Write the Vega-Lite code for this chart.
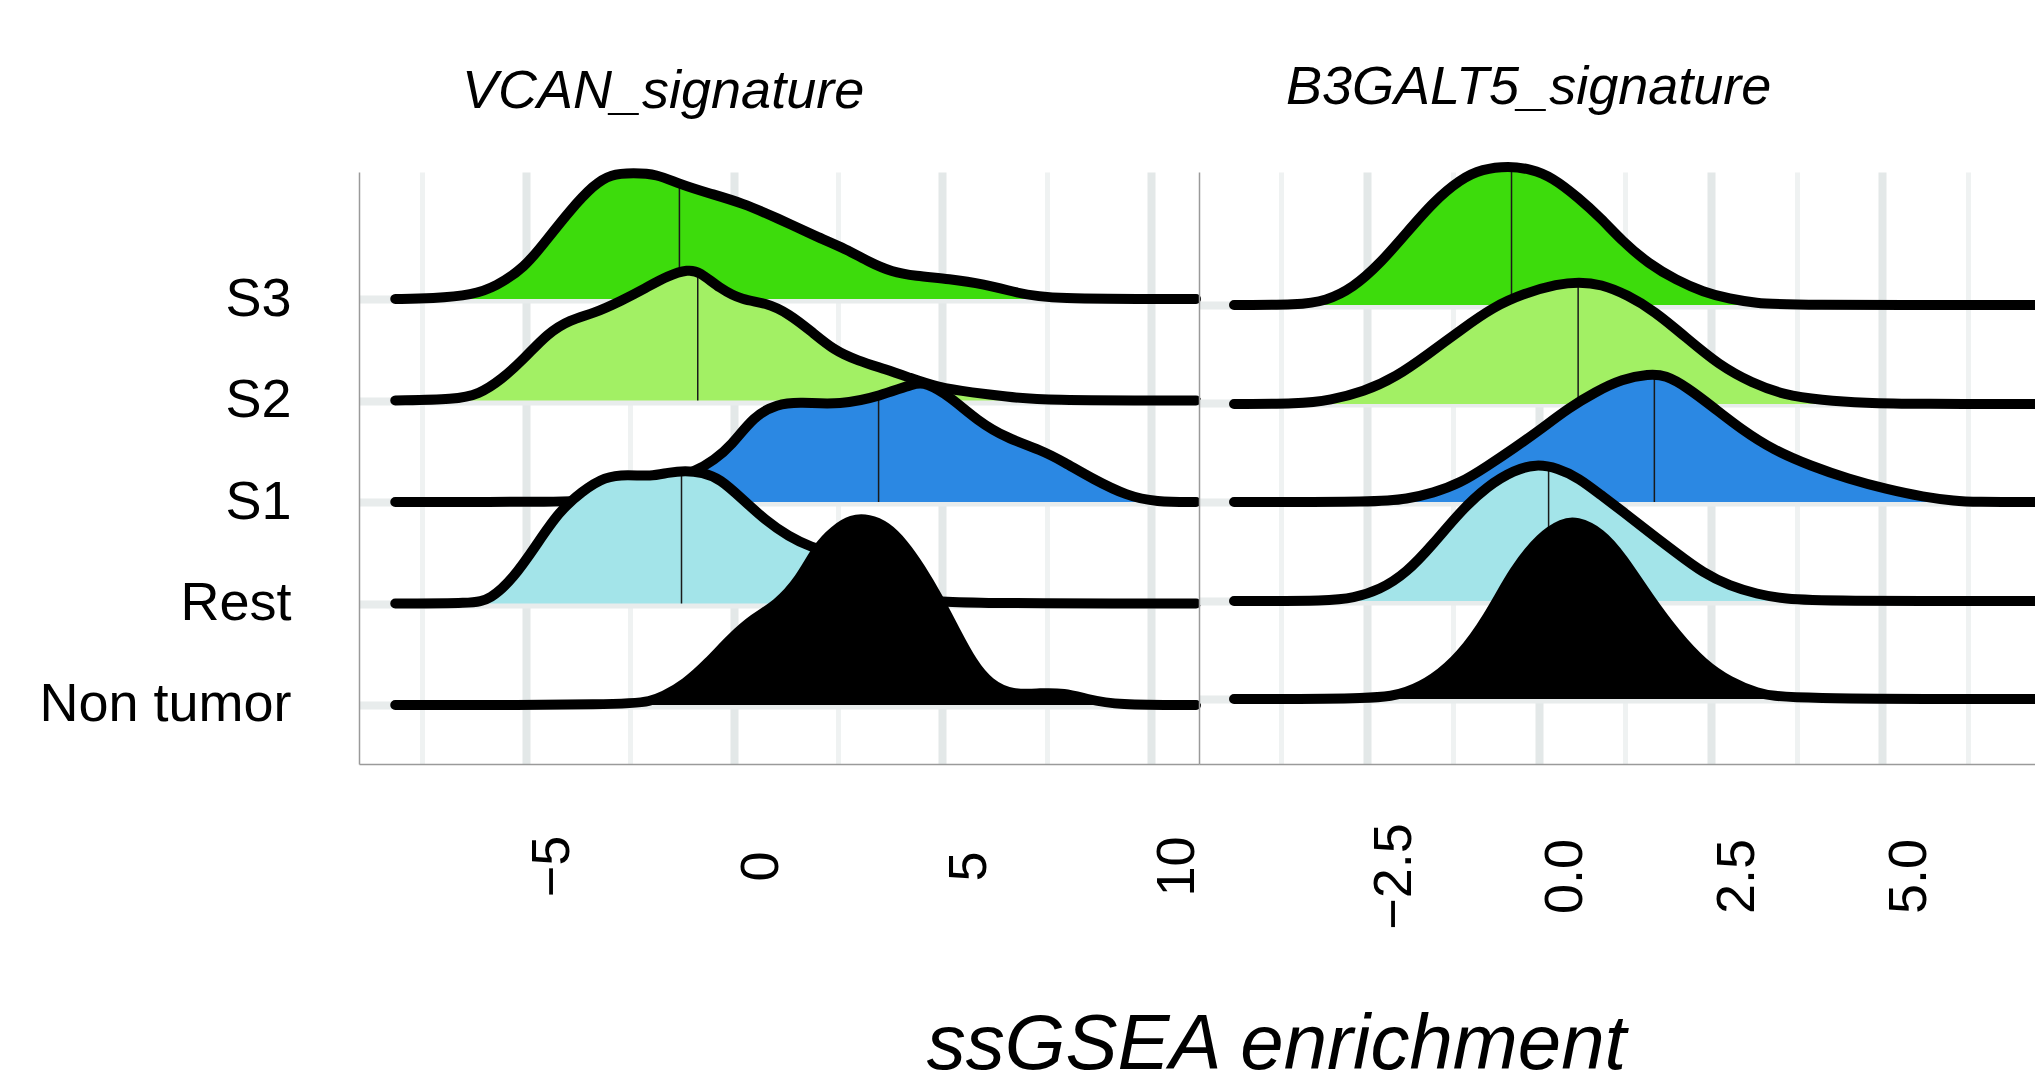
{
  "$schema": "https://vega.github.io/schema/vega-lite/v6.json",
  "background": "white",
  "padding": {"left": 38, "top": 61, "right": 0, "bottom": 0},
  "bounds": "flush",
  "spacing": 0,
  "config": {
    "view": {"stroke": null},
    "font": "Liberation Sans",
    "axis": {"labelFont": "Liberation Sans", "titleFont": "Liberation Sans"}
  },
  "resolve": {"scale": {"x": "independent", "y": "independent"}},
  "datasets": {
    "curves": [
      {"sig": "VCAN", "group": "S3", "v": -8.13, "h": 0},
      {"sig": "VCAN", "group": "S3", "v": -7.23, "h": 0.005},
      {"sig": "VCAN", "group": "S3", "v": -6.27, "h": 0.04},
      {"sig": "VCAN", "group": "S3", "v": -5.72, "h": 0.125},
      {"sig": "VCAN", "group": "S3", "v": -5.03, "h": 0.31},
      {"sig": "VCAN", "group": "S3", "v": -4.48, "h": 0.6},
      {"sig": "VCAN", "group": "S3", "v": -3.93, "h": 0.89},
      {"sig": "VCAN", "group": "S3", "v": -3.37, "h": 1.14},
      {"sig": "VCAN", "group": "S3", "v": -2.96, "h": 1.25},
      {"sig": "VCAN", "group": "S3", "v": -2.41, "h": 1.26},
      {"sig": "VCAN", "group": "S3", "v": -1.86, "h": 1.25},
      {"sig": "VCAN", "group": "S3", "v": -1.31, "h": 1.15},
      {"sig": "VCAN", "group": "S3", "v": -0.62, "h": 1.06},
      {"sig": "VCAN", "group": "S3", "v": 0.21, "h": 0.96},
      {"sig": "VCAN", "group": "S3", "v": 1.03, "h": 0.81},
      {"sig": "VCAN", "group": "S3", "v": 2.0, "h": 0.62},
      {"sig": "VCAN", "group": "S3", "v": 2.69, "h": 0.5},
      {"sig": "VCAN", "group": "S3", "v": 3.24, "h": 0.37},
      {"sig": "VCAN", "group": "S3", "v": 3.79, "h": 0.27},
      {"sig": "VCAN", "group": "S3", "v": 4.34, "h": 0.23},
      {"sig": "VCAN", "group": "S3", "v": 5.17, "h": 0.2},
      {"sig": "VCAN", "group": "S3", "v": 5.99, "h": 0.15},
      {"sig": "VCAN", "group": "S3", "v": 6.82, "h": 0.06},
      {"sig": "VCAN", "group": "S3", "v": 7.51, "h": 0},
      {"sig": "VCAN", "group": "S3", "v": 11.09, "h": 0},

      {"sig": "VCAN", "group": "S2", "v": -8.13, "h": 0},
      {"sig": "VCAN", "group": "S2", "v": -6.68, "h": 0.01},
      {"sig": "VCAN", "group": "S2", "v": -6.13, "h": 0.06},
      {"sig": "VCAN", "group": "S2", "v": -5.58, "h": 0.21},
      {"sig": "VCAN", "group": "S2", "v": -5.03, "h": 0.42},
      {"sig": "VCAN", "group": "S2", "v": -4.48, "h": 0.67},
      {"sig": "VCAN", "group": "S2", "v": -3.93, "h": 0.81},
      {"sig": "VCAN", "group": "S2", "v": -3.37, "h": 0.87},
      {"sig": "VCAN", "group": "S2", "v": -2.69, "h": 1.0},
      {"sig": "VCAN", "group": "S2", "v": -2.14, "h": 1.12},
      {"sig": "VCAN", "group": "S2", "v": -1.58, "h": 1.25},
      {"sig": "VCAN", "group": "S2", "v": -1.1, "h": 1.31},
      {"sig": "VCAN", "group": "S2", "v": -0.83, "h": 1.29},
      {"sig": "VCAN", "group": "S2", "v": -0.34, "h": 1.12},
      {"sig": "VCAN", "group": "S2", "v": 0.21, "h": 1.0},
      {"sig": "VCAN", "group": "S2", "v": 0.76, "h": 0.98},
      {"sig": "VCAN", "group": "S2", "v": 1.31, "h": 0.87},
      {"sig": "VCAN", "group": "S2", "v": 1.86, "h": 0.69},
      {"sig": "VCAN", "group": "S2", "v": 2.41, "h": 0.5},
      {"sig": "VCAN", "group": "S2", "v": 2.96, "h": 0.4},
      {"sig": "VCAN", "group": "S2", "v": 3.65, "h": 0.31},
      {"sig": "VCAN", "group": "S2", "v": 4.2, "h": 0.23},
      {"sig": "VCAN", "group": "S2", "v": 4.89, "h": 0.13},
      {"sig": "VCAN", "group": "S2", "v": 5.72, "h": 0.08},
      {"sig": "VCAN", "group": "S2", "v": 6.54, "h": 0.04},
      {"sig": "VCAN", "group": "S2", "v": 7.37, "h": 0},
      {"sig": "VCAN", "group": "S2", "v": 11.09, "h": 0},

      {"sig": "VCAN", "group": "S1", "v": -8.13, "h": 0},
      {"sig": "VCAN", "group": "S1", "v": -4.0, "h": 0},
      {"sig": "VCAN", "group": "S1", "v": -3.24, "h": 0.02},
      {"sig": "VCAN", "group": "S1", "v": -2.55, "h": 0.08},
      {"sig": "VCAN", "group": "S1", "v": -1.72, "h": 0.19},
      {"sig": "VCAN", "group": "S1", "v": -0.9, "h": 0.31},
      {"sig": "VCAN", "group": "S1", "v": -0.48, "h": 0.42},
      {"sig": "VCAN", "group": "S1", "v": -0.07, "h": 0.56},
      {"sig": "VCAN", "group": "S1", "v": 0.48, "h": 0.86},
      {"sig": "VCAN", "group": "S1", "v": 1.03, "h": 0.98},
      {"sig": "VCAN", "group": "S1", "v": 1.58, "h": 1.0},
      {"sig": "VCAN", "group": "S1", "v": 2.55, "h": 0.97},
      {"sig": "VCAN", "group": "S1", "v": 3.51, "h": 1.06},
      {"sig": "VCAN", "group": "S1", "v": 4.34, "h": 1.19},
      {"sig": "VCAN", "group": "S1", "v": 4.61, "h": 1.19},
      {"sig": "VCAN", "group": "S1", "v": 5.17, "h": 1.06},
      {"sig": "VCAN", "group": "S1", "v": 5.85, "h": 0.81},
      {"sig": "VCAN", "group": "S1", "v": 6.54, "h": 0.64},
      {"sig": "VCAN", "group": "S1", "v": 7.37, "h": 0.52},
      {"sig": "VCAN", "group": "S1", "v": 7.92, "h": 0.4},
      {"sig": "VCAN", "group": "S1", "v": 8.61, "h": 0.23},
      {"sig": "VCAN", "group": "S1", "v": 9.44, "h": 0.06},
      {"sig": "VCAN", "group": "S1", "v": 10.12, "h": 0},
      {"sig": "VCAN", "group": "S1", "v": 11.09, "h": 0},

      {"sig": "VCAN", "group": "Rest", "v": -8.13, "h": 0},
      {"sig": "VCAN", "group": "Rest", "v": -6.27, "h": 0},
      {"sig": "VCAN", "group": "Rest", "v": -5.85, "h": 0.04},
      {"sig": "VCAN", "group": "Rest", "v": -5.3, "h": 0.25},
      {"sig": "VCAN", "group": "Rest", "v": -4.75, "h": 0.58},
      {"sig": "VCAN", "group": "Rest", "v": -4.2, "h": 0.92},
      {"sig": "VCAN", "group": "Rest", "v": -3.65, "h": 1.12},
      {"sig": "VCAN", "group": "Rest", "v": -3.1, "h": 1.27},
      {"sig": "VCAN", "group": "Rest", "v": -2.55, "h": 1.29},
      {"sig": "VCAN", "group": "Rest", "v": -2.0, "h": 1.27},
      {"sig": "VCAN", "group": "Rest", "v": -1.58, "h": 1.31},
      {"sig": "VCAN", "group": "Rest", "v": -1.17, "h": 1.33},
      {"sig": "VCAN", "group": "Rest", "v": -0.76, "h": 1.31},
      {"sig": "VCAN", "group": "Rest", "v": -0.34, "h": 1.25},
      {"sig": "VCAN", "group": "Rest", "v": 0.21, "h": 1.04},
      {"sig": "VCAN", "group": "Rest", "v": 0.76, "h": 0.83},
      {"sig": "VCAN", "group": "Rest", "v": 1.31, "h": 0.67},
      {"sig": "VCAN", "group": "Rest", "v": 1.86, "h": 0.56},
      {"sig": "VCAN", "group": "Rest", "v": 2.41, "h": 0.5},
      {"sig": "VCAN", "group": "Rest", "v": 2.96, "h": 0.4},
      {"sig": "VCAN", "group": "Rest", "v": 3.65, "h": 0.2},
      {"sig": "VCAN", "group": "Rest", "v": 4.34, "h": 0.05},
      {"sig": "VCAN", "group": "Rest", "v": 5.03, "h": 0},
      {"sig": "VCAN", "group": "Rest", "v": 11.09, "h": 0},

      {"sig": "VCAN", "group": "Non tumor", "v": -8.13, "h": 0},
      {"sig": "VCAN", "group": "Non tumor", "v": -2.55, "h": 0},
      {"sig": "VCAN", "group": "Non tumor", "v": -2.0, "h": 0.04},
      {"sig": "VCAN", "group": "Non tumor", "v": -1.72, "h": 0.08},
      {"sig": "VCAN", "group": "Non tumor", "v": -1.17, "h": 0.21},
      {"sig": "VCAN", "group": "Non tumor", "v": -0.62, "h": 0.42},
      {"sig": "VCAN", "group": "Non tumor", "v": -0.07, "h": 0.67},
      {"sig": "VCAN", "group": "Non tumor", "v": 0.48, "h": 0.87},
      {"sig": "VCAN", "group": "Non tumor", "v": 1.03, "h": 1.0},
      {"sig": "VCAN", "group": "Non tumor", "v": 1.58, "h": 1.25},
      {"sig": "VCAN", "group": "Non tumor", "v": 2.0, "h": 1.58},
      {"sig": "VCAN", "group": "Non tumor", "v": 2.41, "h": 1.75},
      {"sig": "VCAN", "group": "Non tumor", "v": 2.82, "h": 1.86},
      {"sig": "VCAN", "group": "Non tumor", "v": 3.24, "h": 1.86},
      {"sig": "VCAN", "group": "Non tumor", "v": 3.65, "h": 1.79},
      {"sig": "VCAN", "group": "Non tumor", "v": 4.06, "h": 1.62},
      {"sig": "VCAN", "group": "Non tumor", "v": 4.48, "h": 1.37},
      {"sig": "VCAN", "group": "Non tumor", "v": 4.89, "h": 1.08},
      {"sig": "VCAN", "group": "Non tumor", "v": 5.3, "h": 0.75},
      {"sig": "VCAN", "group": "Non tumor", "v": 5.72, "h": 0.42},
      {"sig": "VCAN", "group": "Non tumor", "v": 6.13, "h": 0.21},
      {"sig": "VCAN", "group": "Non tumor", "v": 6.68, "h": 0.1},
      {"sig": "VCAN", "group": "Non tumor", "v": 7.37, "h": 0.12},
      {"sig": "VCAN", "group": "Non tumor", "v": 7.92, "h": 0.12},
      {"sig": "VCAN", "group": "Non tumor", "v": 8.47, "h": 0.06},
      {"sig": "VCAN", "group": "Non tumor", "v": 9.16, "h": 0},
      {"sig": "VCAN", "group": "Non tumor", "v": 11.09, "h": 0},

      {"sig": "B3GALT5", "group": "S3", "v": -4.44, "h": 0},
      {"sig": "B3GALT5", "group": "S3", "v": -3.5, "h": 0},
      {"sig": "B3GALT5", "group": "S3", "v": -3.1, "h": 0.04},
      {"sig": "B3GALT5", "group": "S3", "v": -2.71, "h": 0.17},
      {"sig": "B3GALT5", "group": "S3", "v": -2.32, "h": 0.41},
      {"sig": "B3GALT5", "group": "S3", "v": -1.93, "h": 0.72},
      {"sig": "B3GALT5", "group": "S3", "v": -1.54, "h": 1.03},
      {"sig": "B3GALT5", "group": "S3", "v": -1.14, "h": 1.26},
      {"sig": "B3GALT5", "group": "S3", "v": -0.83, "h": 1.36},
      {"sig": "B3GALT5", "group": "S3", "v": -0.44, "h": 1.39},
      {"sig": "B3GALT5", "group": "S3", "v": -0.12, "h": 1.36},
      {"sig": "B3GALT5", "group": "S3", "v": 0.19, "h": 1.28},
      {"sig": "B3GALT5", "group": "S3", "v": 0.58, "h": 1.07},
      {"sig": "B3GALT5", "group": "S3", "v": 0.9, "h": 0.87},
      {"sig": "B3GALT5", "group": "S3", "v": 1.21, "h": 0.64},
      {"sig": "B3GALT5", "group": "S3", "v": 1.6, "h": 0.41},
      {"sig": "B3GALT5", "group": "S3", "v": 2.0, "h": 0.25},
      {"sig": "B3GALT5", "group": "S3", "v": 2.39, "h": 0.13},
      {"sig": "B3GALT5", "group": "S3", "v": 2.78, "h": 0.06},
      {"sig": "B3GALT5", "group": "S3", "v": 3.17, "h": 0.02},
      {"sig": "B3GALT5", "group": "S3", "v": 3.56, "h": 0},
      {"sig": "B3GALT5", "group": "S3", "v": 7.3, "h": 0},

      {"sig": "B3GALT5", "group": "S2", "v": -4.44, "h": 0},
      {"sig": "B3GALT5", "group": "S2", "v": -3.5, "h": 0},
      {"sig": "B3GALT5", "group": "S2", "v": -3.03, "h": 0.04},
      {"sig": "B3GALT5", "group": "S2", "v": -2.56, "h": 0.12},
      {"sig": "B3GALT5", "group": "S2", "v": -2.08, "h": 0.27},
      {"sig": "B3GALT5", "group": "S2", "v": -1.61, "h": 0.5},
      {"sig": "B3GALT5", "group": "S2", "v": -1.14, "h": 0.74},
      {"sig": "B3GALT5", "group": "S2", "v": -0.67, "h": 0.97},
      {"sig": "B3GALT5", "group": "S2", "v": -0.2, "h": 1.11},
      {"sig": "B3GALT5", "group": "S2", "v": 0.27, "h": 1.2},
      {"sig": "B3GALT5", "group": "S2", "v": 0.58, "h": 1.22},
      {"sig": "B3GALT5", "group": "S2", "v": 0.9, "h": 1.2},
      {"sig": "B3GALT5", "group": "S2", "v": 1.29, "h": 1.09},
      {"sig": "B3GALT5", "group": "S2", "v": 1.68, "h": 0.93},
      {"sig": "B3GALT5", "group": "S2", "v": 2.15, "h": 0.66},
      {"sig": "B3GALT5", "group": "S2", "v": 2.62, "h": 0.39},
      {"sig": "B3GALT5", "group": "S2", "v": 3.1, "h": 0.21},
      {"sig": "B3GALT5", "group": "S2", "v": 3.57, "h": 0.09},
      {"sig": "B3GALT5", "group": "S2", "v": 4.11, "h": 0.04},
      {"sig": "B3GALT5", "group": "S2", "v": 4.74, "h": 0.01},
      {"sig": "B3GALT5", "group": "S2", "v": 5.52, "h": 0},
      {"sig": "B3GALT5", "group": "S2", "v": 7.3, "h": 0},

      {"sig": "B3GALT5", "group": "S1", "v": -4.44, "h": 0},
      {"sig": "B3GALT5", "group": "S1", "v": -2.32, "h": 0},
      {"sig": "B3GALT5", "group": "S1", "v": -1.93, "h": 0.03},
      {"sig": "B3GALT5", "group": "S1", "v": -1.54, "h": 0.09},
      {"sig": "B3GALT5", "group": "S1", "v": -1.14, "h": 0.19},
      {"sig": "B3GALT5", "group": "S1", "v": -0.75, "h": 0.36},
      {"sig": "B3GALT5", "group": "S1", "v": -0.36, "h": 0.54},
      {"sig": "B3GALT5", "group": "S1", "v": 0.03, "h": 0.73},
      {"sig": "B3GALT5", "group": "S1", "v": 0.43, "h": 0.94},
      {"sig": "B3GALT5", "group": "S1", "v": 0.82, "h": 1.1},
      {"sig": "B3GALT5", "group": "S1", "v": 1.21, "h": 1.23},
      {"sig": "B3GALT5", "group": "S1", "v": 1.6, "h": 1.28},
      {"sig": "B3GALT5", "group": "S1", "v": 1.84, "h": 1.27},
      {"sig": "B3GALT5", "group": "S1", "v": 2.15, "h": 1.15},
      {"sig": "B3GALT5", "group": "S1", "v": 2.55, "h": 0.94},
      {"sig": "B3GALT5", "group": "S1", "v": 2.94, "h": 0.73},
      {"sig": "B3GALT5", "group": "S1", "v": 3.41, "h": 0.52},
      {"sig": "B3GALT5", "group": "S1", "v": 3.96, "h": 0.36},
      {"sig": "B3GALT5", "group": "S1", "v": 4.51, "h": 0.23},
      {"sig": "B3GALT5", "group": "S1", "v": 5.05, "h": 0.13},
      {"sig": "B3GALT5", "group": "S1", "v": 5.6, "h": 0.05},
      {"sig": "B3GALT5", "group": "S1", "v": 6.07, "h": 0.01},
      {"sig": "B3GALT5", "group": "S1", "v": 6.31, "h": 0},
      {"sig": "B3GALT5", "group": "S1", "v": 7.3, "h": 0},

      {"sig": "B3GALT5", "group": "Rest", "v": -4.44, "h": 0},
      {"sig": "B3GALT5", "group": "Rest", "v": -3.03, "h": 0},
      {"sig": "B3GALT5", "group": "Rest", "v": -2.71, "h": 0.03},
      {"sig": "B3GALT5", "group": "Rest", "v": -2.32, "h": 0.11},
      {"sig": "B3GALT5", "group": "Rest", "v": -1.93, "h": 0.28},
      {"sig": "B3GALT5", "group": "Rest", "v": -1.54, "h": 0.57},
      {"sig": "B3GALT5", "group": "Rest", "v": -1.14, "h": 0.9},
      {"sig": "B3GALT5", "group": "Rest", "v": -0.75, "h": 1.15},
      {"sig": "B3GALT5", "group": "Rest", "v": -0.36, "h": 1.31},
      {"sig": "B3GALT5", "group": "Rest", "v": -0.04, "h": 1.37},
      {"sig": "B3GALT5", "group": "Rest", "v": 0.27, "h": 1.33},
      {"sig": "B3GALT5", "group": "Rest", "v": 0.58, "h": 1.23},
      {"sig": "B3GALT5", "group": "Rest", "v": 0.9, "h": 1.06},
      {"sig": "B3GALT5", "group": "Rest", "v": 1.21, "h": 0.9},
      {"sig": "B3GALT5", "group": "Rest", "v": 1.6, "h": 0.69},
      {"sig": "B3GALT5", "group": "Rest", "v": 2.0, "h": 0.48},
      {"sig": "B3GALT5", "group": "Rest", "v": 2.39, "h": 0.28},
      {"sig": "B3GALT5", "group": "Rest", "v": 2.78, "h": 0.15},
      {"sig": "B3GALT5", "group": "Rest", "v": 3.17, "h": 0.07},
      {"sig": "B3GALT5", "group": "Rest", "v": 3.57, "h": 0.02},
      {"sig": "B3GALT5", "group": "Rest", "v": 4.19, "h": 0},
      {"sig": "B3GALT5", "group": "Rest", "v": 7.3, "h": 0},

      {"sig": "B3GALT5", "group": "Non tumor", "v": -4.44, "h": 0},
      {"sig": "B3GALT5", "group": "Non tumor", "v": -2.32, "h": 0},
      {"sig": "B3GALT5", "group": "Non tumor", "v": -1.93, "h": 0.06},
      {"sig": "B3GALT5", "group": "Non tumor", "v": -1.54, "h": 0.19},
      {"sig": "B3GALT5", "group": "Non tumor", "v": -1.14, "h": 0.43},
      {"sig": "B3GALT5", "group": "Non tumor", "v": -0.75, "h": 0.8},
      {"sig": "B3GALT5", "group": "Non tumor", "v": -0.36, "h": 1.3},
      {"sig": "B3GALT5", "group": "Non tumor", "v": 0.03, "h": 1.63},
      {"sig": "B3GALT5", "group": "Non tumor", "v": 0.35, "h": 1.76},
      {"sig": "B3GALT5", "group": "Non tumor", "v": 0.54, "h": 1.78},
      {"sig": "B3GALT5", "group": "Non tumor", "v": 0.9, "h": 1.67},
      {"sig": "B3GALT5", "group": "Non tumor", "v": 1.21, "h": 1.42},
      {"sig": "B3GALT5", "group": "Non tumor", "v": 1.6, "h": 1.01},
      {"sig": "B3GALT5", "group": "Non tumor", "v": 2.0, "h": 0.64},
      {"sig": "B3GALT5", "group": "Non tumor", "v": 2.39, "h": 0.35},
      {"sig": "B3GALT5", "group": "Non tumor", "v": 2.78, "h": 0.17},
      {"sig": "B3GALT5", "group": "Non tumor", "v": 3.17, "h": 0.06},
      {"sig": "B3GALT5", "group": "Non tumor", "v": 3.57, "h": 0},
      {"sig": "B3GALT5", "group": "Non tumor", "v": 7.3, "h": 0}
    ],
    "medians": [
      {"sig": "VCAN", "group": "S3", "v": -1.31, "h": 1.14},
      {"sig": "VCAN", "group": "S2", "v": -0.87, "h": 1.27},
      {"sig": "VCAN", "group": "S1", "v": 3.47, "h": 1.04},
      {"sig": "VCAN", "group": "Rest", "v": -1.26, "h": 1.3},
      {"sig": "B3GALT5", "group": "S3", "v": -0.4, "h": 1.36},
      {"sig": "B3GALT5", "group": "S2", "v": 0.57, "h": 1.19},
      {"sig": "B3GALT5", "group": "S1", "v": 1.68, "h": 1.25},
      {"sig": "B3GALT5", "group": "Rest", "v": 0.14, "h": 1.33}
    ]
  },
  "hconcat": [
    {
      "width": 840,
      "height": 592,
      "title": {"text": "VCAN_signature", "anchor": "start", "frame": "group", "dx": 103, "fontSize": 54, "fontStyle": "italic", "fontWeight": "normal", "font": "Liberation Sans", "color": "black", "baseline": "alphabetic", "offset": 6},
      "resolve": {"scale": {"y": "independent"}},
      "layer": [
        {
          "data": {"name": "medians"},
          "transform": [{"filter": "datum.sig == 'VCAN'"}],
          "mark": {"type": "point", "opacity": 0},
          "encoding": {
            "x": {"field": "v", "type": "quantitative", "scale": {"domain": [-9, 11.16], "nice": false, "zero": false},
              "axis": {"values": [-7.5, -5, -2.5, 0, 2.5, 5, 7.5, 10], "format": "d", "labelExpr": "datum.value % 5 == 0 ? datum.label : ''",
                "grid": true, "gridColor": {"condition": {"test": "datum.value % 5 == 0", "value": "#e3e8e8"}, "value": "#eff2f2"},
                "gridWidth": {"condition": {"test": "datum.value % 5 == 0", "value": 8}, "value": 5},
                "ticks": false, "tickSize": 0, "domain": true, "domainColor": "#9a9a9a", "domainWidth": 1.5,
                "labelAngle": 270, "labelAlign": "center", "labelBaseline": "top", "labelPadding": 102, "labelFontSize": 54, "labelColor": "black", "labelOverlap": false, "labelFlush": false, "labelBound": false,
                "title": "ssGSEA enrichment", "titleX": 917, "titleY": 304, "titleAlign": "center", "titleBaseline": "alphabetic", "titleFontSize": 78, "titleFontStyle": "italic", "titleFontWeight": "normal", "titleColor": "black"}},
            "y": {"field": "group", "type": "nominal", "scale": {"type": "point", "domain": ["S3", "S2", "S1", "Rest", "Non tumor"], "padding": 0.9163, "align": 0.6828, "round": false},
              "axis": {"title": null, "labelFontSize": 54, "labelColor": "black", "labelPadding": 68, "labelLimit": 0, "labelAlign": "right", "labelBaseline": "middle", "ticks": false, "tickSize": 0, "domain": true, "domainColor": "#9a9a9a", "domainWidth": 1.5, "grid": true, "gridColor": "#e8ecec", "gridWidth": 8}}
          }
        },
        {"layer": [
          {"data": {"name": "curves"}, "transform": [{"filter": "datum.sig == 'VCAN' && datum.group == 'S3'"}], "mark": {"type": "area", "interpolate": "basis", "color": "#3ddc0c"},
           "encoding": {"x": {"field": "v", "type": "quantitative", "scale": {"domain": [-9, 11.16], "nice": false, "zero": false}}, "y": {"field": "h", "type": "quantitative", "scale": {"domain": [0, 1], "range": [127, 27], "nice": false}, "axis": null}}},
          {"data": {"name": "medians"}, "transform": [{"filter": "datum.sig == 'VCAN' && datum.group == 'S3'"}], "mark": {"type": "rule", "color": "#1a1a1a", "strokeWidth": 1.5},
           "encoding": {"x": {"field": "v", "type": "quantitative"}, "y": {"field": "h", "type": "quantitative", "axis": null}, "y2": {"datum": 0}}},
          {"data": {"name": "curves"}, "transform": [{"filter": "datum.sig == 'VCAN' && datum.group == 'S3'"}], "mark": {"type": "line", "interpolate": "basis", "color": "black", "strokeWidth": 10, "strokeCap": "round", "strokeJoin": "round"},
           "encoding": {"x": {"field": "v", "type": "quantitative"}, "y": {"field": "h", "type": "quantitative", "axis": null}}}
        ]},
        {"layer": [
          {"data": {"name": "curves"}, "transform": [{"filter": "datum.sig == 'VCAN' && datum.group == 'S2'"}], "mark": {"type": "area", "interpolate": "basis", "color": "#a2f064"},
           "encoding": {"x": {"field": "v", "type": "quantitative", "scale": {"domain": [-9, 11.16], "nice": false, "zero": false}}, "y": {"field": "h", "type": "quantitative", "scale": {"domain": [0, 1], "range": [228.5, 128.5], "nice": false}, "axis": null}}},
          {"data": {"name": "medians"}, "transform": [{"filter": "datum.sig == 'VCAN' && datum.group == 'S2'"}], "mark": {"type": "rule", "color": "#1a1a1a", "strokeWidth": 1.5},
           "encoding": {"x": {"field": "v", "type": "quantitative"}, "y": {"field": "h", "type": "quantitative", "axis": null}, "y2": {"datum": 0}}},
          {"data": {"name": "curves"}, "transform": [{"filter": "datum.sig == 'VCAN' && datum.group == 'S2'"}], "mark": {"type": "line", "interpolate": "basis", "color": "black", "strokeWidth": 10, "strokeCap": "round", "strokeJoin": "round"},
           "encoding": {"x": {"field": "v", "type": "quantitative"}, "y": {"field": "h", "type": "quantitative", "axis": null}}}
        ]},
        {"layer": [
          {"data": {"name": "curves"}, "transform": [{"filter": "datum.sig == 'VCAN' && datum.group == 'S1'"}], "mark": {"type": "area", "interpolate": "basis", "color": "#2b88e3"},
           "encoding": {"x": {"field": "v", "type": "quantitative", "scale": {"domain": [-9, 11.16], "nice": false, "zero": false}}, "y": {"field": "h", "type": "quantitative", "scale": {"domain": [0, 1], "range": [330, 230], "nice": false}, "axis": null}}},
          {"data": {"name": "medians"}, "transform": [{"filter": "datum.sig == 'VCAN' && datum.group == 'S1'"}], "mark": {"type": "rule", "color": "#1a1a1a", "strokeWidth": 1.5},
           "encoding": {"x": {"field": "v", "type": "quantitative"}, "y": {"field": "h", "type": "quantitative", "axis": null}, "y2": {"datum": 0}}},
          {"data": {"name": "curves"}, "transform": [{"filter": "datum.sig == 'VCAN' && datum.group == 'S1'"}], "mark": {"type": "line", "interpolate": "basis", "color": "black", "strokeWidth": 10, "strokeCap": "round", "strokeJoin": "round"},
           "encoding": {"x": {"field": "v", "type": "quantitative"}, "y": {"field": "h", "type": "quantitative", "axis": null}}}
        ]},
        {"layer": [
          {"data": {"name": "curves"}, "transform": [{"filter": "datum.sig == 'VCAN' && datum.group == 'Rest'"}], "mark": {"type": "area", "interpolate": "basis", "color": "#a3e4e9"},
           "encoding": {"x": {"field": "v", "type": "quantitative", "scale": {"domain": [-9, 11.16], "nice": false, "zero": false}}, "y": {"field": "h", "type": "quantitative", "scale": {"domain": [0, 1], "range": [431.5, 331.5], "nice": false}, "axis": null}}},
          {"data": {"name": "medians"}, "transform": [{"filter": "datum.sig == 'VCAN' && datum.group == 'Rest'"}], "mark": {"type": "rule", "color": "#1a1a1a", "strokeWidth": 1.5},
           "encoding": {"x": {"field": "v", "type": "quantitative"}, "y": {"field": "h", "type": "quantitative", "axis": null}, "y2": {"datum": 0}}},
          {"data": {"name": "curves"}, "transform": [{"filter": "datum.sig == 'VCAN' && datum.group == 'Rest'"}], "mark": {"type": "line", "interpolate": "basis", "color": "black", "strokeWidth": 10, "strokeCap": "round", "strokeJoin": "round"},
           "encoding": {"x": {"field": "v", "type": "quantitative"}, "y": {"field": "h", "type": "quantitative", "axis": null}}}
        ]},
        {"layer": [
          {"data": {"name": "curves"}, "transform": [{"filter": "datum.sig == 'VCAN' && datum.group == 'Non tumor'"}], "mark": {"type": "area", "interpolate": "basis", "color": "#000000"},
           "encoding": {"x": {"field": "v", "type": "quantitative", "scale": {"domain": [-9, 11.16], "nice": false, "zero": false}}, "y": {"field": "h", "type": "quantitative", "scale": {"domain": [0, 1], "range": [533, 433], "nice": false}, "axis": null}}},
          {"data": {"name": "curves"}, "transform": [{"filter": "datum.sig == 'VCAN' && datum.group == 'Non tumor'"}], "mark": {"type": "line", "interpolate": "basis", "color": "black", "strokeWidth": 10, "strokeCap": "round", "strokeJoin": "round"},
           "encoding": {"x": {"field": "v", "type": "quantitative"}, "y": {"field": "h", "type": "quantitative", "axis": null}}}
        ]}
      ]
    },
    {
      "width": 840,
      "height": 592,
      "title": {"text": "B3GALT5_signature", "anchor": "start", "frame": "group", "dx": 87, "fontSize": 54, "fontStyle": "italic", "fontWeight": "normal", "font": "Liberation Sans", "color": "black", "baseline": "alphabetic", "offset": 4},
      "resolve": {"scale": {"y": "independent"}},
      "layer": [
        {
          "data": {"name": "medians"},
          "transform": [{"filter": "datum.sig == 'B3GALT5'"}],
          "mark": {"type": "point", "opacity": 0},
          "encoding": {
            "x": {"field": "v", "type": "quantitative", "scale": {"domain": [-4.95, 7.28], "nice": false, "zero": false},
              "axis": {"values": [-3.75, -2.5, -1.25, 0, 1.25, 2.5, 3.75, 5, 6.25], "format": ".1f", "labelExpr": "abs(datum.value % 2.5) < 0.001 ? datum.label : ''",
                "grid": true, "gridColor": {"condition": {"test": "abs(datum.value % 2.5) < 0.001", "value": "#e3e8e8"}, "value": "#eff2f2"},
                "gridWidth": {"condition": {"test": "abs(datum.value % 2.5) < 0.001", "value": 8}, "value": 5},
                "ticks": false, "tickSize": 0, "domain": true, "domainColor": "#9a9a9a", "domainWidth": 1.5,
                "labelAngle": 270, "labelAlign": "center", "labelBaseline": "top", "labelPadding": 112, "labelFontSize": 54, "labelColor": "black", "labelOverlap": false, "labelFlush": false, "labelBound": false,
                "title": null}},
            "y": {"field": "group", "type": "nominal", "scale": {"type": "point", "domain": ["S3", "S2", "S1", "Rest", "Non tumor"], "padding": 1.0051, "align": 0.6717, "round": false},
              "axis": {"title": null, "labels": false, "ticks": false, "tickSize": 0, "domain": true, "domainColor": "#9a9a9a", "domainWidth": 1.5, "grid": true, "gridColor": "#e8ecec", "gridWidth": 8}}
          }
        },
        {"layer": [
          {"data": {"name": "curves"}, "transform": [{"filter": "datum.sig == 'B3GALT5' && datum.group == 'S3'"}], "mark": {"type": "area", "interpolate": "basis", "color": "#3ddc0c"},
           "encoding": {"x": {"field": "v", "type": "quantitative", "scale": {"domain": [-4.95, 7.28], "nice": false, "zero": false}}, "y": {"field": "h", "type": "quantitative", "scale": {"domain": [0, 1], "range": [133, 33], "nice": false}, "axis": null}}},
          {"data": {"name": "medians"}, "transform": [{"filter": "datum.sig == 'B3GALT5' && datum.group == 'S3'"}], "mark": {"type": "rule", "color": "#1a1a1a", "strokeWidth": 1.5},
           "encoding": {"x": {"field": "v", "type": "quantitative"}, "y": {"field": "h", "type": "quantitative", "axis": null}, "y2": {"datum": 0}}},
          {"data": {"name": "curves"}, "transform": [{"filter": "datum.sig == 'B3GALT5' && datum.group == 'S3'"}], "mark": {"type": "line", "interpolate": "basis", "color": "black", "strokeWidth": 10, "strokeCap": "round", "strokeJoin": "round"},
           "encoding": {"x": {"field": "v", "type": "quantitative"}, "y": {"field": "h", "type": "quantitative", "axis": null}}}
        ]},
        {"layer": [
          {"data": {"name": "curves"}, "transform": [{"filter": "datum.sig == 'B3GALT5' && datum.group == 'S2'"}], "mark": {"type": "area", "interpolate": "basis", "color": "#a2f064"},
           "encoding": {"x": {"field": "v", "type": "quantitative", "scale": {"domain": [-4.95, 7.28], "nice": false, "zero": false}}, "y": {"field": "h", "type": "quantitative", "scale": {"domain": [0, 1], "range": [232, 132], "nice": false}, "axis": null}}},
          {"data": {"name": "medians"}, "transform": [{"filter": "datum.sig == 'B3GALT5' && datum.group == 'S2'"}], "mark": {"type": "rule", "color": "#1a1a1a", "strokeWidth": 1.5},
           "encoding": {"x": {"field": "v", "type": "quantitative"}, "y": {"field": "h", "type": "quantitative", "axis": null}, "y2": {"datum": 0}}},
          {"data": {"name": "curves"}, "transform": [{"filter": "datum.sig == 'B3GALT5' && datum.group == 'S2'"}], "mark": {"type": "line", "interpolate": "basis", "color": "black", "strokeWidth": 10, "strokeCap": "round", "strokeJoin": "round"},
           "encoding": {"x": {"field": "v", "type": "quantitative"}, "y": {"field": "h", "type": "quantitative", "axis": null}}}
        ]},
        {"layer": [
          {"data": {"name": "curves"}, "transform": [{"filter": "datum.sig == 'B3GALT5' && datum.group == 'S1'"}], "mark": {"type": "area", "interpolate": "basis", "color": "#2b88e3"},
           "encoding": {"x": {"field": "v", "type": "quantitative", "scale": {"domain": [-4.95, 7.28], "nice": false, "zero": false}}, "y": {"field": "h", "type": "quantitative", "scale": {"domain": [0, 1], "range": [330, 230], "nice": false}, "axis": null}}},
          {"data": {"name": "medians"}, "transform": [{"filter": "datum.sig == 'B3GALT5' && datum.group == 'S1'"}], "mark": {"type": "rule", "color": "#1a1a1a", "strokeWidth": 1.5},
           "encoding": {"x": {"field": "v", "type": "quantitative"}, "y": {"field": "h", "type": "quantitative", "axis": null}, "y2": {"datum": 0}}},
          {"data": {"name": "curves"}, "transform": [{"filter": "datum.sig == 'B3GALT5' && datum.group == 'S1'"}], "mark": {"type": "line", "interpolate": "basis", "color": "black", "strokeWidth": 10, "strokeCap": "round", "strokeJoin": "round"},
           "encoding": {"x": {"field": "v", "type": "quantitative"}, "y": {"field": "h", "type": "quantitative", "axis": null}}}
        ]},
        {"layer": [
          {"data": {"name": "curves"}, "transform": [{"filter": "datum.sig == 'B3GALT5' && datum.group == 'Rest'"}], "mark": {"type": "area", "interpolate": "basis", "color": "#a3e4e9"},
           "encoding": {"x": {"field": "v", "type": "quantitative", "scale": {"domain": [-4.95, 7.28], "nice": false, "zero": false}}, "y": {"field": "h", "type": "quantitative", "scale": {"domain": [0, 1], "range": [429, 329], "nice": false}, "axis": null}}},
          {"data": {"name": "medians"}, "transform": [{"filter": "datum.sig == 'B3GALT5' && datum.group == 'Rest'"}], "mark": {"type": "rule", "color": "#1a1a1a", "strokeWidth": 1.5},
           "encoding": {"x": {"field": "v", "type": "quantitative"}, "y": {"field": "h", "type": "quantitative", "axis": null}, "y2": {"datum": 0}}},
          {"data": {"name": "curves"}, "transform": [{"filter": "datum.sig == 'B3GALT5' && datum.group == 'Rest'"}], "mark": {"type": "line", "interpolate": "basis", "color": "black", "strokeWidth": 10, "strokeCap": "round", "strokeJoin": "round"},
           "encoding": {"x": {"field": "v", "type": "quantitative"}, "y": {"field": "h", "type": "quantitative", "axis": null}}}
        ]},
        {"layer": [
          {"data": {"name": "curves"}, "transform": [{"filter": "datum.sig == 'B3GALT5' && datum.group == 'Non tumor'"}], "mark": {"type": "area", "interpolate": "basis", "color": "#000000"},
           "encoding": {"x": {"field": "v", "type": "quantitative", "scale": {"domain": [-4.95, 7.28], "nice": false, "zero": false}}, "y": {"field": "h", "type": "quantitative", "scale": {"domain": [0, 1], "range": [527, 427], "nice": false}, "axis": null}}},
          {"data": {"name": "curves"}, "transform": [{"filter": "datum.sig == 'B3GALT5' && datum.group == 'Non tumor'"}], "mark": {"type": "line", "interpolate": "basis", "color": "black", "strokeWidth": 10, "strokeCap": "round", "strokeJoin": "round"},
           "encoding": {"x": {"field": "v", "type": "quantitative"}, "y": {"field": "h", "type": "quantitative", "axis": null}}}
        ]}
      ]
    }
  ]
}
